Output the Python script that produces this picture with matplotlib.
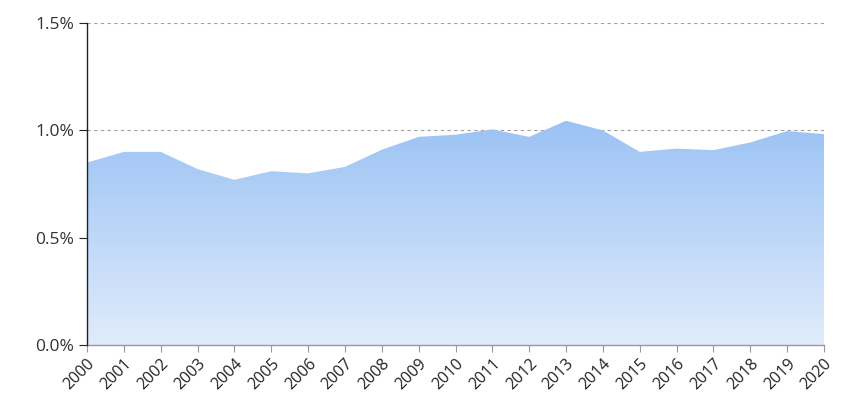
import numpy as np
import matplotlib.pyplot as plt
from matplotlib.ticker import FuncFormatter

years = list(range(2000, 2021))
# share in percent
values = [0.85, 0.90, 0.90, 0.82, 0.77, 0.81, 0.80, 0.83, 0.91, 0.97, 0.98,
          1.005, 0.97, 1.045, 1.00, 0.90, 0.915, 0.908, 0.944, 0.997, 0.983]
y_ticks = [0.0, 0.5, 1.0, 1.5]


def main():
    plt.rcParams['font.family'] = ['Open Sans', 'DejaVu Sans']
    fig = plt.figure(figsize=(8.64, 4.13), dpi=100)
    ax = fig.add_axes([0.1007, 0.1646, 0.853, 0.7794])

    # dashed grid behind the area
    for t in y_ticks[1:]:
        ax.axhline(t, color='#a0a0a0', linestyle=(0, (3, 3)), linewidth=0.8, zorder=0)

    # gradient area: draw an image and clip it to the fill polygon
    poly = ax.fill_between(years, values, 0, color='none', linewidth=0)
    top = np.array([0x9b, 0xc2, 0xf4]) / 255
    bottom = np.array([0xe0, 0xec, 0xfb]) / 255
    grad = np.linspace(0, 1, 256)[:, None]
    img = top * (1 - grad[..., None]) + bottom * grad[..., None]
    img = np.repeat(img, 2, axis=1)
    im = ax.imshow(img, extent=[years[0], years[-1], 0, max(values)],
                   aspect='auto', origin='upper', zorder=1)
    im.set_clip_path(poly.get_paths()[0], transform=ax.transData)

    ax.set_xlim(years[0], years[-1])
    ax.set_ylim(0, 1.5)
    ax.set_xticks(years)
    ax.set_xticklabels([str(y) for y in years], rotation=45, ha='right',
                       rotation_mode='anchor', fontsize=11.5, color='#222222')
    ax.set_yticks(y_ticks)
    ax.yaxis.set_major_formatter(FuncFormatter(lambda v, p: f'{v:.1f}%'))
    ax.tick_params(axis='y', labelsize=12.5, colors='#222222', length=6, width=0.8)
    ax.tick_params(axis='x', length=5, width=0.8, color='#999999', pad=3)
    for lab in ax.get_yticklabels():
        lab.set_color('#333333')

    ax.spines['top'].set_visible(False)
    ax.spines['right'].set_visible(False)
    ax.spines['left'].set_color('#222222')
    ax.spines['left'].set_linewidth(1.0)
    ax.spines['bottom'].set_color('#999999')
    ax.spines['bottom'].set_linewidth(1.0)
    ax.spines['left'].set_zorder(3)

    fig.savefig('out.png', dpi=100)


if __name__ == "__main__":
    main()
